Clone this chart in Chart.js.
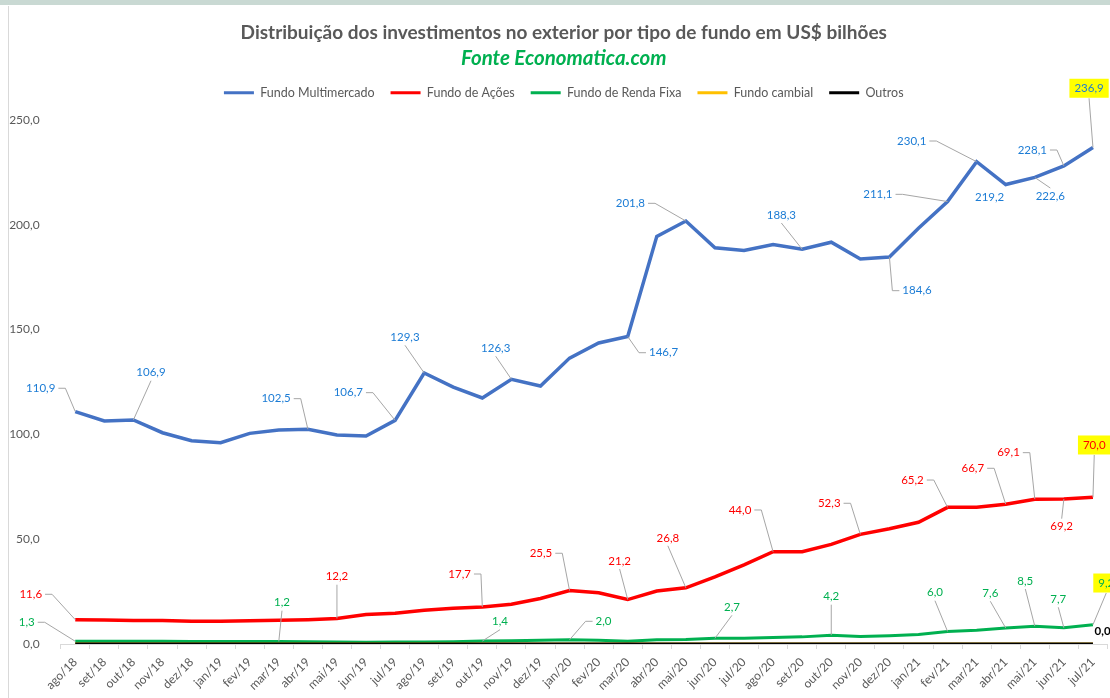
<!DOCTYPE html>
<html>
<head>
<meta charset="utf-8">
<script src="https://cdn.jsdelivr.net/npm/chart.js@4.4.1/dist/chart.umd.min.js"></script>
<style>
  html, body { margin: 0; padding: 0; background: #fff; }
  #wrap { width: 1110px; height: 698px; }
</style>
</head>
<body>
<div id="wrap"><canvas id="fundos" width="1110" height="698"></canvas></div>
<script>
// categorias e séries (US$ bilhões)
var meses = ['ago/18','set/18','out/18','nov/18','dez/18',
  'jan/19','fev/19','mar/19','abr/19','mai/19','jun/19','jul/19','ago/19','set/19','out/19','nov/19','dez/19',
  'jan/20','fev/20','mar/20','abr/20','mai/20','jun/20','jul/20','ago/20','set/20','out/20','nov/20','dez/20',
  'jan/21','fev/21','mar/21','abr/21','mai/21','jun/21','jul/21'];

var multimercado = [110.9,106.4,106.9,100.8,97.0,96.0,100.5,102.1,102.5,99.7,99.2,106.7,
  129.3,122.6,117.4,126.3,123.1,136.4,143.6,146.7,194.5,201.8,189.0,187.8,
  190.6,188.3,191.7,183.7,184.6,198.4,211.1,230.1,219.2,222.6,228.1,236.9];

var acoes = [11.6,11.5,11.2,11.2,10.8,10.8,11.1,11.3,11.6,12.2,14.1,14.7,
  16.1,17.1,17.7,19.0,21.7,25.5,24.4,21.2,25.3,26.8,32.0,37.8,
  44.0,44.0,47.5,52.3,55.0,58.1,65.2,65.2,66.7,69.1,69.2,70.0];

var rendaFixa = [1.3,1.3,1.3,1.3,1.2,1.2,1.2,1.2,1.1,0.9,0.8,0.9,
  1.0,1.1,1.4,1.6,1.8,2.0,1.8,1.3,2.0,2.1,2.7,2.8,
  3.1,3.4,4.2,3.6,3.9,4.5,6.0,6.6,7.6,8.5,7.7,9.2];

var cambial = [0,0,0,0,0,0,0,0,0,0,0,0,
  0,0,0,0,0,0,0,0,0,0,0,0,
  0,0,0,0,0,0,0,0,0,0,0,0];

var outros = [0.04,0.04,0.04,0.04,0.04,0.04,0.04,0.04,0.04,0.04,0.04,0.04,
  0.04,0.04,0.04,0.04,0.04,0.04,0.04,0.04,0.04,0.04,0.04,0.04,
  0.04,0.04,0.04,0.04,0.04,0.04,0.04,0.04,0.04,0.04,0.04,0.04];

var corRotulo = ['#1C7CD5', '#FF0000', '#00B050', '#FFC000', '#000000'];

// posição dos rótulos: [série, índice, dx, dy, guia, destaque]
var rotulos = [
  [0, 0, -34.5, -23.3, 'right'], [0, 2, 17.6, -47.2, 'bottom'], [0, 8, -31.8, -30.5, 'right'],
  [0, 11, -46.8, -27.7, 'right'], [0, 12, -19.2, -35.7, 'bottom'], [0, 15, -15.7, -31, 'bottom'],
  [0, 19, 35.9, 16.2, 'left'], [0, 21, -55.5, -17.7, 'right'], [0, 25, -20.8, -34.3, 'bottom'],
  [0, 28, 27.6, 33.6, 'left'], [0, 30, -69.7, -7.2, 'right'], [0, 31, -64.9, -20.7, 'right'],
  [0, 32, -16.1, 12.7, ''], [0, 33, 15.5, 18.6, 'top'], [0, 34, -31.6, -15.9, 'right'],
  [0, 35, -3.9, -59.2, 'bottom', true],
  [1, 0, -44.5, -25.4, 'right'], [1, 9, 0, -41.7, 'bottom'], [1, 14, -22.7, -32.9, 'right'],
  [1, 17, -28.6, -37.3, 'right'], [1, 19, -8.1, -38.6, 'bottom'], [1, 21, -18, -50, 'bottom'],
  [1, 24, -33.1, -41.8, 'right'], [1, 27, -31.1, -31.1, 'right'], [1, 30, -35.1, -27.3, 'right'],
  [1, 32, -32.9, -35.9, 'right'], [1, 33, -26.3, -46.5, 'right'], [1, 34, -2.2, 27.7, 'top'],
  [1, 35, 1.3, -52.3, 'bottom', true],
  [2, 0, -48.5, -19, 'right'], [2, 7, 3.2, -38.8, 'bottom'], [2, 14, 17.7, -19.4, 'bottom'],
  [2, 17, 34, -18.5, 'left'], [2, 22, 17, -31, 'bottom'], [2, 26, 0, -38.5, 'bottom'],
  [2, 30, -12.6, -38.7, 'bottom'], [2, 32, -15.4, -34.8, 'bottom'], [2, 33, -9.5, -45.2, 'bottom'],
  [2, 34, -5.6, -28.6, 'bottom'], [2, 35, 13.3, -41.7, 'bottom', true],
  [4, 35, 13, -13, '']
];

function formata(v, serie) {
  return (serie === 4 ? v.toFixed(2) : v.toFixed(1)).replace('.', ',');
}

// moldura cinza do gráfico original
var moldura = {
  id: 'moldura',
  beforeDraw: function(chart) {
    var ctx = chart.ctx;
    ctx.save();
    ctx.fillStyle = '#fff';
    ctx.fillRect(0, 0, chart.width, chart.height);
    ctx.fillStyle = '#c9d9d3';
    ctx.fillRect(0, 0, chart.width, 5);
    ctx.strokeStyle = '#d9d9d9';
    ctx.lineWidth = 1;
    ctx.beginPath();
    ctx.moveTo(8.5, 6);
    ctx.lineTo(8.5, chart.height);
    ctx.stroke();
    ctx.restore();
  },
  beforeLayout: function(chart) {
    // legenda um pouco mais alta para afastar a área do gráfico
    var lg = chart.legend;
    if (lg && !lg._alto) {
      var fit = lg.fit;
      lg.fit = function() { fit.call(this); this.height = 49.6; };
      lg._alto = true;
    }
  },
  afterLayout: function(chart) {
    // título, subtítulo e legenda ficam um pouco à direita no original
    chart.boxes.forEach(function(b) {
      if (b.position === 'top' && !b.axis) {
        b.left += 10;
        b.right += 10;
      }
    });
  }
};

// rótulos de dados com linhas guia
var rotulosPlugin = {
  id: 'rotulos',
  afterDatasetsDraw: function(chart) {
    var ctx = chart.ctx;
    ctx.save();
    rotulos.forEach(function(r) {
      var serie = r[0], i = r[1];
      var pt = chart.getDatasetMeta(serie).data[i];
      var txt = formata(chart.data.datasets[serie].data[i], serie);
      ctx.font = (serie === 4 ? 'bold ' : '') + '11.5px Lato';
      var w = ctx.measureText(txt).width, h = 12;
      var lx = pt.x + r[2], ly = pt.y + r[3];
      ctx.strokeStyle = '#a6a6a6';
      ctx.lineWidth = 1;
      ctx.beginPath();
      if (r[4] === 'right') {
        ctx.moveTo(lx + w / 2 + 3, ly);
        ctx.lineTo(lx + w / 2 + 10, ly);
        ctx.lineTo(pt.x, pt.y);
      } else if (r[4] === 'left') {
        ctx.moveTo(lx - w / 2 - 3, ly);
        ctx.lineTo(lx - w / 2 - 10, ly);
        ctx.lineTo(pt.x, pt.y);
      } else if (r[4] === 'bottom') {
        ctx.moveTo(lx, ly + h / 2 + (r[5] ? 4 : 2));
        ctx.lineTo(pt.x, pt.y);
      } else if (r[4] === 'top') {
        ctx.moveTo(lx, ly - h / 2 - 2);
        ctx.lineTo(pt.x, pt.y);
      }
      ctx.stroke();
      if (r[5]) {
        ctx.fillStyle = '#FFFF00';
        ctx.fillRect(lx - w / 2 - 5, ly - 9.5, w + 10, 19);
      }
      ctx.fillStyle = corRotulo[serie];
      ctx.textAlign = 'center';
      ctx.textBaseline = 'middle';
      ctx.fillText(txt, lx, ly);
    });
    ctx.restore();
  }
};

function serie(nome, dados, cor, largura, ordem) {
  return {
    label: nome,
    data: dados,
    borderColor: cor,
    backgroundColor: cor,
    borderWidth: largura,
    pointRadius: 0,
    pointHoverRadius: 0,
    pointBorderWidth: 3,
    tension: 0,
    fill: false,
    order: ordem
  };
}

function makeChart() {
  new Chart('fundos', {
    type: 'line',
    data: {
      labels: meses,
      datasets: [
        serie('Fundo Multimercado', multimercado, '#4472C4', 3.5, 4),
        serie('Fundo de Ações', acoes, '#FF0000', 3.5, 3),
        serie('Fundo de Renda Fixa', rendaFixa, '#00B050', 3, 2),
        serie('Fundo cambial', cambial, '#FFC000', 3, 1),
        serie('Outros', outros, '#000000', 3, 0)
      ]
    },
    options: {
      responsive: false,
      devicePixelRatio: 1,
      animation: false,
      events: [],
      layout: { padding: { top: 6, left: 0, right: 2.5, bottom: 0 } },
      plugins: {
        title: {
          display: true,
          text: 'Distribuição dos investimentos no exterior por tipo de fundo em US$ bilhões',
          color: '#595959',
          font: { family: 'Lato', size: 19, weight: 'bold' },
          padding: { top: 15, bottom: 2 }
        },
        subtitle: {
          display: true,
          text: 'Fonte Economatica.com',
          color: '#00B050',
          font: { family: 'Lato', size: 20.5, weight: 'bold', style: 'italic' },
          padding: { top: 0, bottom: 0 }
        },
        legend: {
          labels: {
            usePointStyle: true,
            pointStyle: 'line',
            pointStyleWidth: 30,
            color: '#595959',
            font: { family: 'Lato', size: 12.5 },
            padding: 16,
            sort: function(a, b) { return a.datasetIndex - b.datasetIndex; }
          }
        },
        tooltip: { enabled: false }
      },
      scales: {
        x: {
          offset: true,
          grid: { offset: true, drawOnChartArea: false, drawTicks: true, tickLength: 5, color: '#d9d9d9' },
          border: { color: '#d9d9d9' },
          ticks: {
            autoSkip: false,
            maxRotation: 45,
            minRotation: 45,
            color: '#595959',
            font: { family: 'Lato', size: 12 },
            padding: 6
          },
          afterFit: function(s) { s.height = 54; }
        },
        y: {
          min: 0,
          max: 250,
          grid: { display: false },
          border: { display: false },
          ticks: {
            stepSize: 50,
            color: '#595959',
            font: { family: 'Lato', size: 12 },
            padding: 13,
            callback: function(v) { return v.toFixed(1).replace('.', ','); }
          },
          afterFit: function(s) { s.width = 60.7; }
        }
      }
    },
    plugins: [moldura, rotulosPlugin]
  });
}

makeChart();
</script>
</body>
</html>
